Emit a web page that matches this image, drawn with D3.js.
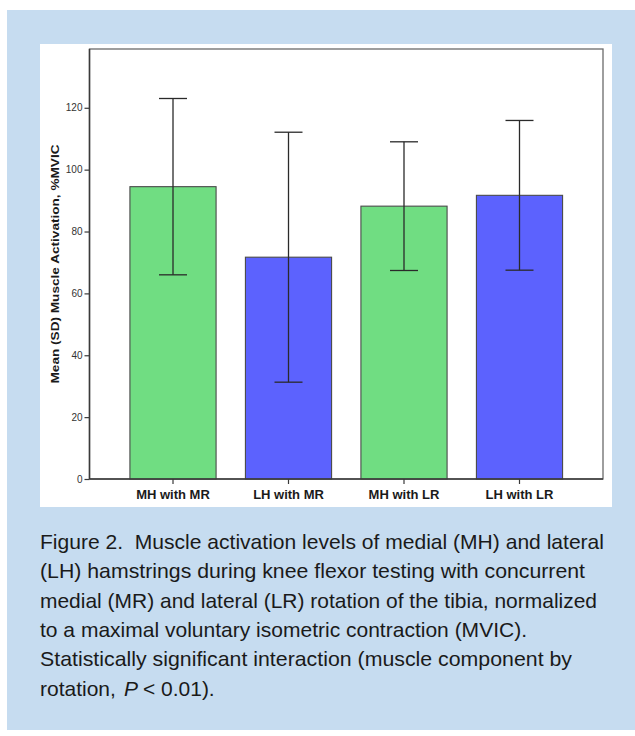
<!DOCTYPE html>
<html>
<head>
<meta charset="utf-8">
<script src="https://cdn.jsdelivr.net/npm/d3@7"></script>
<style>
  html, body { margin: 0; padding: 0; background: #ffffff; }
  svg { display: block; }
  .cap { white-space: pre; }
</style>
</head>
<body>
<svg id="chart" width="635" height="736"></svg>
<script>
// ---- data ----
const categories = ["MH with MR", "LH with MR", "MH with LR", "LH with LR"];
const muscles = ["MH", "LH", "MH", "LH"];
const means = [94.5, 71.7, 88.2, 91.7];
const sds = [28.5, 40.4, 20.8, 24.2];
const yTicks = [0, 20, 40, 60, 80, 100, 120];
const yTitle = "Mean (SD) Muscle Activation, %MVIC";
const captionLines = [
  "Figure 2.  Muscle activation levels of medial (MH) and lateral",
  "(LH) hamstrings during knee flexor testing with concurrent",
  "medial (MR) and lateral (LR) rotation of the tibia, normalized",
  "to a maximal voluntary isometric contraction (MVIC).",
  "Statistically significant interaction (muscle component by"
];
const captionLast = ["rotation,", "P", "< 0.01)."];

// ---- layout ----
const svg = d3.select("#chart");
svg.append("rect").attr("x", 7).attr("y", 10).attr("width", 628).attr("height", 720).attr("fill", "#c6dcf0");
svg.append("rect").attr("x", 40).attr("y", 44).attr("width", 572).attr("height", 463).attr("fill", "#ffffff");

const plot = { left: 89.5, right: 603, top: 49, bottom: 479 };

const x = d3.scaleBand().domain(categories).range([plot.left, plot.right])
  .paddingInner(0.254).paddingOuter(0.35);
const y = d3.scaleLinear().domain([0, 139]).range([plot.bottom, plot.top]);
const color = d3.scaleOrdinal().domain(["MH", "LH"]).range(["#70dd82", "#5c62fe"]);

const data = categories.map((c, i) => ({ c, m: muscles[i], mean: means[i], sd: sds[i] }));

// frame (top/right)
svg.append("rect")
  .attr("x", plot.left).attr("y", plot.top)
  .attr("width", plot.right - plot.left).attr("height", plot.bottom - plot.top)
  .attr("fill", "none").attr("stroke", "#6a6a6a").attr("stroke-width", 1.3);

// bars
svg.append("g").selectAll("rect").data(data).join("rect")
  .attr("x", d => x(d.c))
  .attr("y", d => y(d.mean))
  .attr("width", x.bandwidth())
  .attr("height", d => y(0) - y(d.mean))
  .attr("fill", d => color(d.m))
  .attr("stroke", "#4a4a4a").attr("stroke-width", 1.1);

// error bars
const capHalf = 14;
const eg = svg.append("g").attr("stroke", "#2a2a2a").attr("stroke-width", 1.3);
data.forEach(d => {
  const cx = x(d.c) + x.bandwidth() / 2;
  eg.append("line").attr("x1", cx).attr("x2", cx).attr("y1", y(d.mean + d.sd)).attr("y2", y(d.mean - d.sd));
  eg.append("line").attr("x1", cx - capHalf).attr("x2", cx + capHalf).attr("y1", y(d.mean + d.sd)).attr("y2", y(d.mean + d.sd));
  eg.append("line").attr("x1", cx - capHalf).attr("x2", cx + capHalf).attr("y1", y(d.mean - d.sd)).attr("y2", y(d.mean - d.sd));
});

// y axis
const yAxis = svg.append("g").attr("transform", `translate(${plot.left},0)`)
  .call(d3.axisLeft(y).tickValues(yTicks).tickSize(5).tickPadding(2).tickSizeOuter(0));
yAxis.select(".domain").attr("stroke", "#3a3a3a").attr("stroke-width", 1.5)
  .attr("d", `M0,${plot.top}V${plot.bottom}`);
yAxis.selectAll(".tick line").attr("stroke", "#3a3a3a").attr("stroke-width", 1.2);
yAxis.selectAll(".tick text").attr("fill", "#333").attr("font-size", "10px")
  .attr("font-family", "Arial, 'Liberation Sans', sans-serif");

// x axis
const xAxis = svg.append("g").attr("transform", `translate(0,${plot.bottom})`)
  .call(d3.axisBottom(x).tickSize(5).tickPadding(6).tickSizeOuter(0));
xAxis.select(".domain").attr("stroke", "#3a3a3a").attr("stroke-width", 1.5)
  .attr("d", `M${plot.left},0H${plot.right}`);
xAxis.selectAll(".tick line").attr("stroke", "#3a3a3a").attr("stroke-width", 1.2);
xAxis.selectAll(".tick text").attr("fill", "#1a1a1a").attr("font-size", "13px")
  .attr("font-weight", "bold").attr("font-family", "Arial, 'Liberation Sans', sans-serif");

// y title
svg.append("text")
  .attr("transform", `translate(59,${(plot.top + plot.bottom) / 2}) rotate(-90)`)
  .attr("text-anchor", "middle")
  .attr("font-family", "Arial, 'Liberation Sans', sans-serif")
  .attr("font-size", "11.5px").attr("font-weight", "bold").attr("fill", "#1a1a1a")
  .attr("textLength", 239).attr("lengthAdjust", "spacingAndGlyphs")
  .text(yTitle);

// caption
const capFont = "'Liberation Sans', Arial, sans-serif";
const capSize = "21px";
const capWidths = [564, 545, 557, 487, 532];
const lineH = 29.3;
const base0 = 549;
captionLines.forEach((t, i) => {
  svg.append("text").attr("class", "cap")
    .attr("x", 40).attr("y", base0 + i * lineH)
    .attr("font-family", capFont).attr("font-size", capSize).attr("fill", "#1a1a1a")
    .attr("textLength", capWidths[i]).attr("lengthAdjust", "spacingAndGlyphs")
    .text(t);
});
// last line: three pieces placed one after another (italic P)
let cx0 = 40;
const lastY = base0 + 5 * lineH;
const gaps = [8, 5];
captionLast.forEach((t, i) => {
  const el = svg.append("text")
    .attr("x", cx0).attr("y", lastY)
    .attr("font-family", capFont).attr("font-size", capSize).attr("fill", "#1a1a1a")
    .attr("font-style", i === 1 ? "italic" : "normal")
    .text(t);
  const w = el.node().getComputedTextLength();
  cx0 += w + (gaps[i] || 0);
});
</script>
</body>
</html>
